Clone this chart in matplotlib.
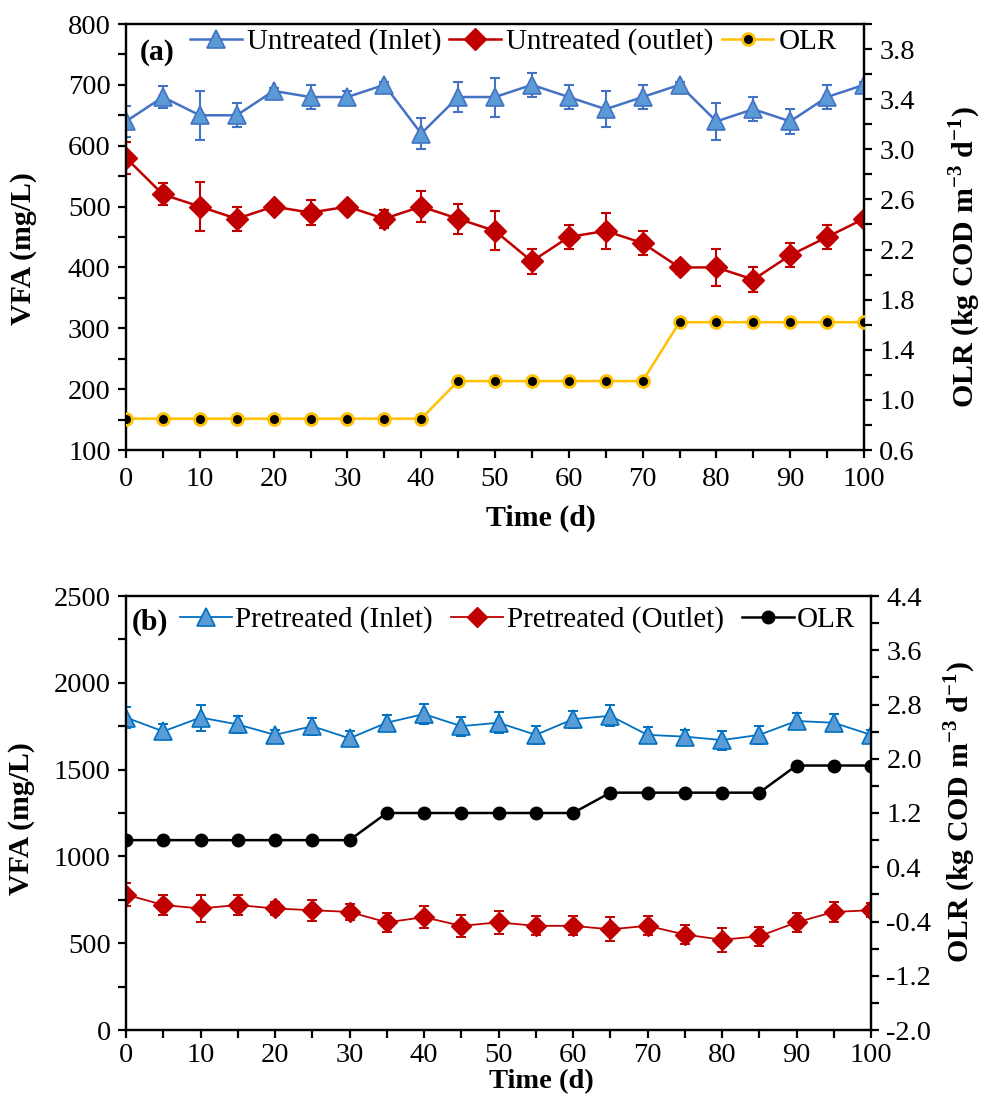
import matplotlib
matplotlib.use("Agg")
import matplotlib.pyplot as plt
from matplotlib.ticker import MultipleLocator, FormatStrFormatter

plt.rcParams['font.family'] = ['Liberation Serif', 'DejaVu Serif']
plt.rcParams['mathtext.fontset'] = 'custom'
plt.rcParams['mathtext.rm'] = 'Liberation Serif'
plt.rcParams['mathtext.bf'] = 'Liberation Serif:bold'
plt.rcParams['axes.unicode_minus'] = False

# ---- data ----
time_d = [0, 5, 10, 15, 20, 25, 30, 35, 40, 45, 50, 55, 60, 65, 70, 75, 80, 85, 90, 95, 100]

untreated_inlet = [640, 680, 650, 650, 690, 680, 680, 700, 620, 680, 680, 700, 680, 660, 680, 700, 640, 660, 640, 680, 700]
untreated_inlet_err = [25, 18, 40, 20, 5, 20, 10, 5, 25, 25, 32, 20, 20, 30, 20, 5, 30, 20, 20, 20, 5]
untreated_outlet = [580, 520, 500, 480, 500, 490, 500, 480, 500, 480, 460, 410, 450, 460, 440, 400, 400, 380, 420, 450, 480]
untreated_outlet_err = [26, 18, 40, 20, 5, 20, 8, 15, 25, 25, 32, 20, 20, 30, 20, 10, 30, 20, 20, 20, 5]
olr_a = [0.85, 0.85, 0.85, 0.85, 0.85, 0.85, 0.85, 0.85, 0.85, 1.15, 1.15, 1.15, 1.15, 1.15, 1.15,
         1.62, 1.62, 1.62, 1.62, 1.62, 1.62]

pretreated_inlet = [1800, 1720, 1800, 1760, 1700, 1750, 1680, 1770, 1820, 1750, 1770, 1700, 1790, 1810,
                    1700, 1690, 1670, 1700, 1780, 1770, 1700]
pretreated_inlet_err = [60, 45, 75, 50, 30, 50, 40, 45, 60, 55, 60, 50, 50, 60, 45, 40, 55, 50, 45, 50, 30]
pretreated_outlet = [780, 720, 700, 720, 700, 690, 680, 620, 650, 600, 620, 600, 600, 580, 600, 550, 520, 540,
                     620, 680, 690]
pretreated_outlet_err = [65, 60, 80, 60, 40, 60, 45, 55, 65, 65, 65, 55, 55, 70, 55, 55, 70, 55, 55, 60, 40]
olr_b = [0.8, 0.8, 0.8, 0.8, 0.8, 0.8, 0.8, 1.2, 1.2, 1.2, 1.2, 1.2, 1.2, 1.5, 1.5, 1.5, 1.5, 1.5, 1.9, 1.9, 1.9]

# ---- style ----
BLUE_A = '#4472C4'
BLUE_B = '#0070C0'
BLUE_FILL = '#5B9BD5'
RED = '#C00000'
GOLD = '#FFC000'
TICK_FS = 20.5
LABEL_FS = 21.5
LEG_FS = 21
SPINE_W = 1.6

W, H = 981, 1096
fig = plt.figure(figsize=(W / 100, H / 100), dpi=100)


def axes_box(left, right, top, bottom):
    return [left / W, 1 - bottom / H, (right - left) / W, (bottom - top) / H]


def style_axes(ax, ax2, xpad=6):
    for a in (ax, ax2):
        for s in a.spines.values():
            s.set_linewidth(SPINE_W)
        a.tick_params(which='both', direction='out', width=SPINE_W, length=6,
                      labelsize=TICK_FS, pad=5)
    ax.tick_params(axis='x', which='both', pad=xpad)


def olr_label(ax2, x, y):
    ax2.set_ylabel(r'OLR (kg COD m$^{\mathbf{-3}}$ d$^{\mathbf{-1}}$)', fontsize=LABEL_FS,
                   fontweight='bold')
    ax2.yaxis.set_label_coords(x, y)


# ================= panel (a) =================
ax = fig.add_axes(axes_box(126, 864, 24, 450))
ax2 = ax.twinx()

ax.errorbar(time_d, untreated_inlet, yerr=untreated_inlet_err, fmt='none', ecolor=BLUE_A,
            elinewidth=1.5, capsize=3.6, capthick=1.5, zorder=2)
ax.errorbar(time_d, untreated_outlet, yerr=untreated_outlet_err, fmt='none', ecolor=RED,
            elinewidth=1.5, capsize=3.6, capthick=1.5, zorder=2)
l1, = ax.plot(time_d, untreated_inlet, color=BLUE_A, lw=1.8, marker='^', ms=13.5,
              mfc=BLUE_FILL, mec=BLUE_A, mew=1.2, zorder=3, label='Untreated (Inlet)')
l2, = ax.plot(time_d, untreated_outlet, color=RED, lw=1.8, marker='D', ms=11,
              mfc=RED, mec=RED, zorder=3, label='Untreated (outlet)')
l3, = ax2.plot(time_d, olr_a, color=GOLD, lw=1.8, marker='o', ms=8.5,
               mfc='black', mec=GOLD, mew=2.0, zorder=3, label='OLR')

ax.set_xlim(0, 100)
ax.set_ylim(100, 800)
ax2.set_ylim(0.6, 4.0)
ax.xaxis.set_major_locator(MultipleLocator(10))
ax.xaxis.set_minor_locator(MultipleLocator(5))
ax.yaxis.set_major_locator(MultipleLocator(100))
ax.yaxis.set_minor_locator(MultipleLocator(50))
ax2.set_yticks([0.6, 1.0, 1.4, 1.8, 2.2, 2.6, 3.0, 3.4, 3.8])
ax2.set_yticks([0.8, 1.2, 1.6, 2.0, 2.4, 2.8, 3.2, 3.6, 4.0], minor=True)
ax2.yaxis.set_major_formatter(FormatStrFormatter('%.1f'))
style_axes(ax, ax2)

ax.set_xlabel('Time (d)', fontsize=LABEL_FS, fontweight='bold')
ax.xaxis.set_label_coords(0.562, -0.129)
ax.set_ylabel('VFA (mg/L)', fontsize=LABEL_FS, fontweight='bold')
ax.yaxis.set_label_coords(-0.121, 0.474)
olr_label(ax2, 1.112, 0.453)

ax2.text(0.019, 0.932, '(a)', transform=ax.transAxes, fontsize=LABEL_FS, fontweight='bold',
         va='center', ha='left')
ax2.legend(handles=[l1, l2, l3], loc='center left', bbox_to_anchor=(0.087, 0.958), ncol=3,
           frameon=False, fontsize=LEG_FS, handlelength=1.78, handletextpad=0.17,
           columnspacing=0.27, borderaxespad=0, borderpad=0)

# ================= panel (b) =================
bx = fig.add_axes(axes_box(126, 871, 596, 1030))
bx2 = bx.twinx()

bx.errorbar(time_d, pretreated_inlet, yerr=pretreated_inlet_err, fmt='none', ecolor=BLUE_B,
            elinewidth=1.4, capsize=3.6, capthick=1.4, zorder=2)
bx.errorbar(time_d, pretreated_outlet, yerr=pretreated_outlet_err, fmt='none', ecolor=RED,
            elinewidth=1.4, capsize=3.6, capthick=1.4, zorder=2)
m1, = bx.plot(time_d, pretreated_inlet, color=BLUE_B, lw=1.3, marker='^', ms=13.5,
              mfc=BLUE_FILL, mec=BLUE_B, mew=1.2, zorder=3, label='Pretreated (Inlet)')
m2, = bx.plot(time_d, pretreated_outlet, color=RED, lw=1.3, marker='D', ms=10.5,
              mfc=RED, mec=RED, zorder=3, label='Pretreated (Outlet)')
m3, = bx2.plot(time_d, olr_b, color='black', lw=1.8, marker='o', ms=9,
               mfc='black', mec='black', zorder=3, label='OLR')

bx.set_xlim(0, 100)
bx.set_ylim(0, 2500)
bx2.set_ylim(-2.0, 4.4)
bx.xaxis.set_major_locator(MultipleLocator(10))
bx.xaxis.set_minor_locator(MultipleLocator(5))
bx.yaxis.set_major_locator(MultipleLocator(500))
bx.yaxis.set_minor_locator(MultipleLocator(250))
bx2.set_yticks([-2.0, -1.2, -0.4, 0.4, 1.2, 2.0, 2.8, 3.6, 4.4])
bx2.set_yticks([-1.6, -0.8, 0.0, 0.8, 1.6, 2.4, 3.2, 4.0], minor=True)
bx2.yaxis.set_major_formatter(FormatStrFormatter('%.1f'))
style_axes(bx, bx2, xpad=3)

bx.set_xlabel('Time (d)', fontsize=20.5, fontweight='bold', va='bottom')
bx.xaxis.set_label_coords(0.557, -0.1485)
bx.set_ylabel('VFA (mg/L)', fontsize=LABEL_FS, fontweight='bold')
bx.yaxis.set_label_coords(-0.122, 0.488)
olr_label(bx2, 1.095, 0.502)

bx2.text(0.008, 0.94, '(b)', transform=bx.transAxes, fontsize=LABEL_FS, fontweight='bold',
         va='center', ha='left')
bx2.legend(handles=[m1, m2, m3], loc='center left', bbox_to_anchor=(0.0725, 0.945), ncol=3,
           frameon=False, fontsize=LEG_FS, handlelength=1.78, handletextpad=0.12,
           columnspacing=0.62, borderaxespad=0, borderpad=0)

fig.savefig('out.png', dpi=100, facecolor='white')
